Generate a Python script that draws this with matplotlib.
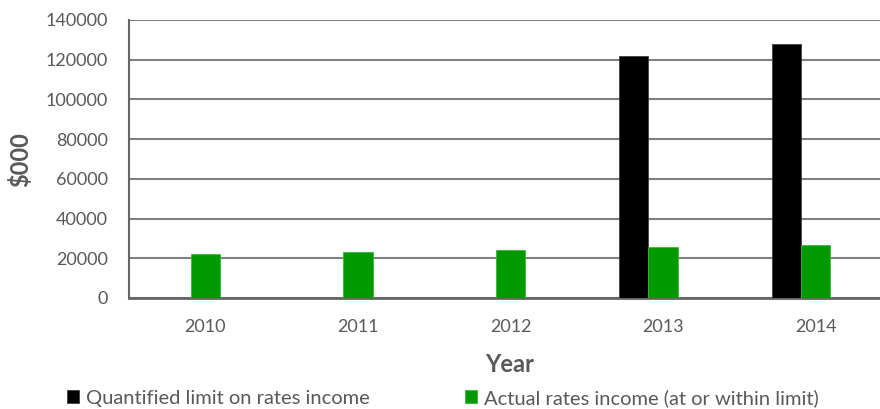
import numpy as np
import matplotlib.pyplot as plt

plt.rcParams['font.family'] = ['Lato', 'DejaVu Sans']

years = ['2010', '2011', '2012', '2013', '2014']
limit = [0, 0, 0, 121700, 128000]
actual = [22100, 23100, 24100, 25500, 26700]

grey = '#595959'
x = np.arange(len(years))
w = 0.193

fig = plt.figure(figsize=(8.8, 4.09), dpi=100)
ax = fig.add_axes([129 / 880, 111 / 409, 763 / 880, 278 / 409])

# black bar sits just left of the green one, green is centred on the year
ax.bar(x - w, limit, w, color='black', edgecolor='#404040', linewidth=0.6,
       label='Quantified limit on rates income', zorder=3)
ax.bar(x, actual, w, color='#009900', edgecolor='#33bb33', linewidth=0.6,
       label='Actual rates income (at or within limit)', zorder=3)

ax.set_xlim(-0.5, 4.5)
ax.set_ylim(0, 140000)
ax.set_yticks(range(0, 140001, 20000))
ax.yaxis.grid(True, color='#808080', linewidth=1.5, zorder=0)
ax.set_xticks(x)
ax.set_xticklabels(years)
ax.tick_params(axis='both', length=0, labelsize=13, labelcolor=grey)
ax.tick_params(axis='x', pad=15)
ax.tick_params(axis='y', pad=15)

for s in ['top', 'right']:
    ax.spines[s].set_visible(False)
ax.spines['left'].set_color('#666666')
ax.spines['left'].set_linewidth(1.5)
ax.spines['bottom'].set_color('#666666')
ax.spines['bottom'].set_linewidth(2)

fig.text(20 / 880, 1 - 160 / 409, '$000', rotation=90, fontsize=17, fontweight='bold',
         color=grey, ha='center', va='center')
fig.text(510 / 880, 1 - 365 / 409, 'Year', fontsize=17, fontweight='bold',
         color=grey, ha='center', va='center')

handles, labels = ax.get_legend_handles_labels()
fig.legend(handles, labels, loc='center left', bbox_to_anchor=(57 / 880, 1 - 398 / 409),
           ncol=2, frameon=False, fontsize=14.5, labelcolor=grey, borderpad=0,
           handlelength=0.6, handleheight=0.6, handletextpad=0.35, columnspacing=4.7)

fig.savefig('out.png', dpi=100)
